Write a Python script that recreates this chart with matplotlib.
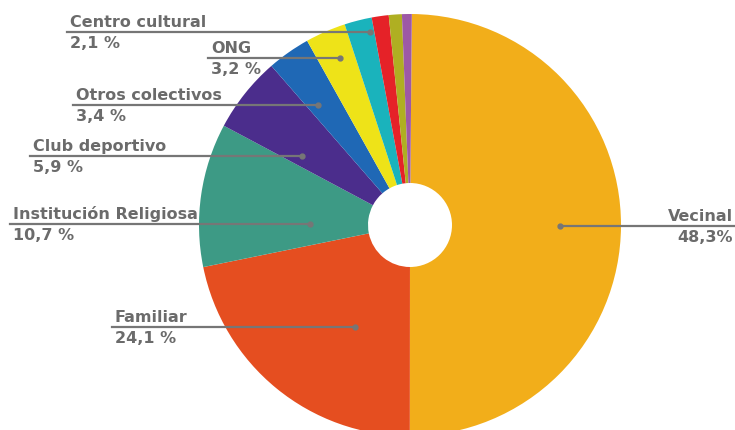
import matplotlib.pyplot as plt

# slice shares as drawn (clockwise from top)
categories = ['Vecinal', 'Familiar', 'Institución Religiosa', 'Club deportivo',
              'Otros colectivos', 'ONG', 'Centro cultural', 'otro1', 'otro2', 'otro3']
shares = [49.9, 21.8, 11.0, 5.8, 3.3, 3.1, 2.1, 1.3, 1.0, 0.75]
pct_labels = ['48,3%', '24,1 %', '10,7 %', '5,9 %', '3,4 %', '3,2 %', '2,1 %', '', '', '']
colors = ['#F2AE1A', '#E54E20', '#3D9A85', '#4B2D8C', '#1F68B5',
          '#EEE318', '#1AB3BC', '#E52228', '#AFAF22', '#9D59A6']

# label layout in pixels (x of text, y of line, x of dot, dot y)
label_pos = {
    'Vecinal': (733, 227, 560, 'right'),
    'Familiar': (112, 328, 355, 'left'),
    'Institución Religiosa': (10, 225, 310, 'left'),
    'Club deportivo': (30, 157, 302, 'left'),
    'Otros colectivos': (73, 106, 318, 'left'),
    'ONG': (208, 59, 340, 'left'),
    'Centro cultural': (67, 33, 370, 'left'),
}

W, H = 735, 431
cx, cy, R, r_hole = 410, 226, 211, 42

fig = plt.figure(figsize=(7.35, 4.31), dpi=100)
ax = fig.add_axes([0, 0, 1, 1])

ax.pie(shares, colors=colors, startangle=89.5, counterclock=False,
       center=(cx, H - cy), radius=R,
       wedgeprops=dict(width=R - r_hole, linewidth=0))

txt_color = '#6b6b6b'
line_color = '#767676'
for cat, pct in zip(categories, pct_labels):
    if cat not in label_pos:
        continue
    tx, ly, dx, ha = label_pos[cat]
    y = H - ly
    if ha == 'right':
        ax.plot([dx, W], [y, y], color=line_color, lw=1.6, zorder=3)
    else:
        ax.plot([tx, dx], [y, y], color=line_color, lw=1.6, zorder=3)
    ax.plot(dx, y, 'o', color=line_color, ms=3.5, zorder=4)
    ax.text(tx + (3 if ha == 'left' else 0), y + 3, cat, ha=ha, va='bottom',
            fontsize=11.5, fontweight='bold', color=txt_color, family='DejaVu Sans')
    ax.text(tx + (3 if ha == 'left' else 0), y - 3, pct, ha=ha, va='top',
            fontsize=11.5, fontweight='bold', color=txt_color, family='DejaVu Sans')

ax.set_xlim(0, W)
ax.set_ylim(0, H)
ax.set_aspect('equal')
ax.axis('off')

fig.savefig('out.png', dpi=100, facecolor='white')
